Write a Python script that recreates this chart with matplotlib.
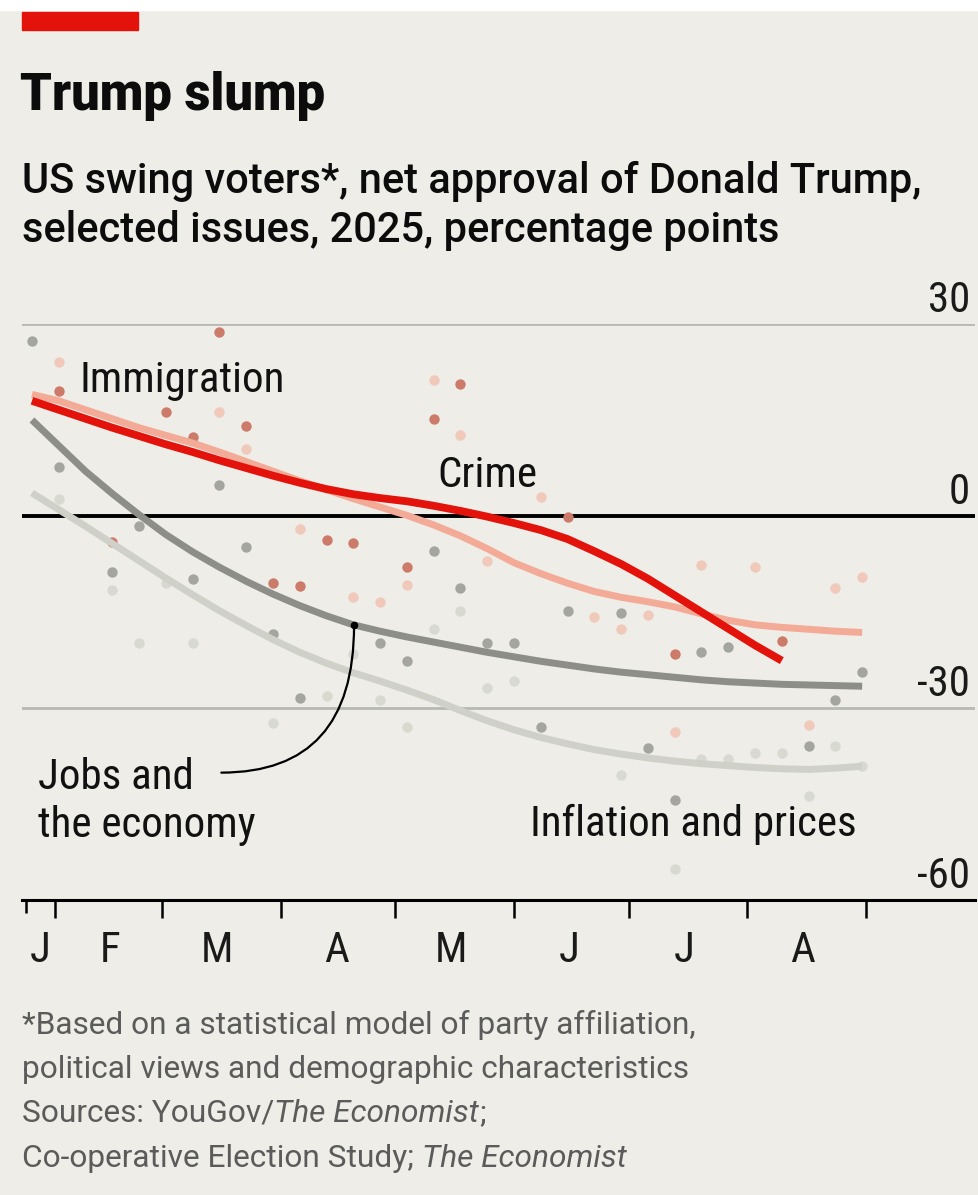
import numpy as np
import pandas as pd
import matplotlib
matplotlib.use("Agg")
import matplotlib.pyplot as plt
import matplotlib.dates as mdates

# narrow face inside the chart, regular width for the header and footer
NARROW = ['Roboto Condensed', 'Archivo Narrow', 'DejaVu Sans']
WIDE = ['Roboto', 'DejaVu Sans']
plt.rcParams['font.family'] = NARROW

# weekly survey dates
weeks = pd.date_range("2025-01-26", periods=32, freq="7D")

# smoothed trends, net approval, percentage points
crime_trend = [18.0, 16.6, 15.2, 13.8, 12.5, 11.2, 10.0, 8.7, 7.5, 6.3, 5.2, 4.2,
               3.4, 2.8, 2.3, 1.6, 0.8, -0.1, -1.1, -2.2, -3.6, -5.5, -7.5, -9.8,
               -12.4, -15.0, -17.6, -20.2, -22.6]
immigration_trend = [19.0, 18.0, 16.6, 15.2, 13.8, 12.6, 11.4, 10.0, 8.5, 7.0, 5.5, 4.1,
                     2.7, 1.4, 0.1, -1.4, -3.1, -5.1, -7.3, -9.0, -10.5, -11.8, -12.7, -13.4,
                     -14.2, -15.3, -16.3, -17.0, -17.4, -17.7, -18.0, -18.2]
jobs_trend = [15.0, 11.0, 7.0, 3.5, 0.2, -2.9, -5.6, -8.0, -10.2, -12.2, -14.0, -15.6,
              -17.0, -18.0, -18.9, -19.7, -20.5, -21.3, -22.0, -22.7, -23.3, -23.9, -24.4, -24.8,
              -25.2, -25.6, -25.9, -26.1, -26.3, -26.4, -26.5, -26.6]
inflation_trend = [3.6, 1.0, -1.6, -4.3, -7.0, -9.7, -12.3, -14.8, -17.1, -19.3, -21.3, -23.0,
                   -24.5, -25.8, -27.2, -28.7, -30.4, -32.0, -33.4, -34.6, -35.6, -36.5, -37.2, -37.8,
                   -38.3, -38.7, -39.0, -39.3, -39.5, -39.6, -39.4, -39.1]

# individual poll readings: week index and value
crime_wk = [1, 3, 5, 6, 7, 8, 9, 10, 11, 12, 14, 15, 16, 20, 24, 28]
crime_pts = [19.5, -4.1, 16.2, 12.3, 28.8, 14.1, -10.4, -11.0, -3.7, -4.2, -7.9, 15.2,
             20.7, -0.2, -21.6, -19.6]
immigration_wk = [1, 7, 8, 10, 12, 13, 14, 15, 16, 17, 19, 21, 22, 23, 24, 25, 27, 29, 30, 31]
immigration_pts = [24.1, 16.2, 10.4, -2.0, -12.6, -13.4, -10.8, 21.3, 12.7, -7.1, 2.9, -15.8,
                   -17.7, -15.4, -33.8, -7.6, -7.9, -32.7, -11.2, -9.5]
jobs_wk = [0, 1, 3, 4, 6, 7, 8, 9, 10, 13, 14, 15, 16, 17, 18, 19, 20, 22, 23, 24, 25, 26,
           29, 30, 31]
jobs_pts = [27.3, 7.6, -8.7, -1.5, -9.9, 4.9, -4.9, -18.5, -28.5, -19.8, -22.7, -5.5, -11.2,
            -19.8, -19.8, -32.9, -14.9, -15.1, -36.2, -44.3, -21.2, -20.4, -35.9, -28.7, -24.3]
inflation_wk = [1, 3, 4, 5, 6, 9, 11, 12, 13, 14, 15, 16, 17, 18, 22, 24, 25, 26, 27, 28, 29,
                30, 31]
inflation_pts = [2.6, -11.5, -19.8, -10.4, -19.8, -32.4, -28.2, -21.6, -28.7, -32.9, -17.7,
                 -14.9, -26.8, -25.8, -40.4, -55.2, -37.9, -37.9, -37.1, -37.1, -43.8, -36.0,
                 -39.1]

y_ticks = [30, 0, -30, -60]
month_labels = ["J", "F", "M", "A", "M", "J", "J", "A"]

BG = '#eeede7'
RED = '#e3120b'
SALMON = '#f3ab97'
DGREY = '#8c8e87'
LGREY = '#cfd0c8'

W, H = 979, 1195
fig = plt.figure(figsize=(W / 100, H / 100), dpi=100, facecolor=BG)

# plot area spans the gridlines: x 22..975 px, y 324..900 px
ax = fig.add_axes([22 / W, (H - 900) / H, (975 - 22) / W, 576 / H])
ax.set_facecolor('none')
jan1 = mdates.date2num(np.datetime64('2025-01-01'))
ax.set_xlim(jan1 + 22.4, jan1 + 271.5)
ax.set_ylim(-60, 30)

for s in ['top', 'right', 'left']:
    ax.spines[s].set_visible(False)
ax.spines['bottom'].set_linewidth(2.2)
ax.spines['bottom'].set_color('black')
ax.set_yticks([])

for v in [30, -30]:
    ax.axhline(v, color='#b9b9b3', lw=2.0, zorder=1)
ax.axhline(0, color='black', lw=2.8, zorder=1)

# month boundaries as ticks, one short tick at the series start
month_starts = pd.date_range("2025-02-01", "2025-09-01", freq="MS")
ax.set_xticks(mdates.date2num(month_starts))
ax.set_xticklabels([])
ax.tick_params(axis='x', which='major', length=13, width=1.8, color='black')
ax.set_xticks([jan1 + 23.4], minor=True)
ax.tick_params(axis='x', which='minor', length=9, width=1.8, color='black')

label_days = [jan1 + 27.2] + list(mdates.date2num(month_starts[:-1]) + 14.5)
for d, m in zip(label_days, month_labels):
    ax.text(d, -0.108, m, transform=ax.get_xaxis_transform(), ha='center',
            va='baseline', fontsize=31, color='#1a1a1a')

for v in y_ticks:
    ax.text(0.995, v + 1.9, str(v), transform=ax.get_yaxis_transform(), ha='right',
            va='baseline', fontsize=31, color='#1a1a1a')

# dots, then trend lines on top
wk = mdates.date2num(weeks)
series = [
    (inflation_wk, inflation_pts, inflation_trend, '#d8d9d1', LGREY, 5.0),
    (jobs_wk, jobs_pts, jobs_trend, '#a3a59e', DGREY, 5.0),
    (immigration_wk, immigration_pts, immigration_trend, '#f1c9bb', SALMON, 5.0),
    (crime_wk, crime_pts, crime_trend, '#cc7b6b', RED, 5.6),
]
for idx, pts, trend, dot_c, line_c, lw in series:
    ax.scatter(wk[idx], pts, s=56, color=dot_c, linewidths=0, zorder=2, clip_on=False)
for idx, pts, trend, dot_c, line_c, lw in series:
    ax.plot(wk[:len(trend)], trend, color=line_c, lw=lw, solid_capstyle='butt',
            zorder=3, clip_on=False)

lab = dict(fontsize=31, color='#111111', va='baseline', ha='left', zorder=5)
ax.text(jan1 + 37.5, 19.3, "Immigration", **lab)
ax.text(jan1 + 130.9, 4.6, "Crime", **lab)
ax.text(jan1 + 26.6, -42.6, "Jobs and", **lab)
ax.text(jan1 + 26.6, -50.2, "the economy", **lab)
ax.text(jan1 + 155.2, -50.0, "Inflation and prices", **lab)

# leader from the jobs label to its trend line
tip = (jan1 + 109.2, -17.1)
ax.annotate("", xy=tip, xytext=(jan1 + 74.5, -40.1),
            arrowprops=dict(arrowstyle='-', color='black', lw=1.6, shrinkA=0, shrinkB=0,
                            connectionstyle='angle3,angleA=0,angleB=90'), zorder=5)
ax.plot(*tip, 'o', ms=4.5, color='black', zorder=6)

# header
fig.patches.append(plt.Rectangle((0, 1 - 10 / H), 1, 10 / H, transform=fig.transFigure,
                                 color='white', zorder=0))
fig.patches.append(plt.Rectangle((22 / W, 1 - 30 / H), 116 / W, 18 / H,
                                 transform=fig.transFigure, color=RED, zorder=1))
fig.text(20 / W, 1 - 110 / H, "Trump slump", family=WIDE, fontsize=36.5, fontweight='black',
         va='baseline', color='#0c0c0c')
fig.text(22 / W, 1 - 193 / H, "US swing voters*, net approval of Donald Trump,",
         family=WIDE, fontsize=30, fontweight='medium', va='baseline', color='#0c0c0c')
fig.text(22 / W, 1 - 242 / H, "selected issues, 2025, percentage points",
         family=WIDE, fontsize=30, fontweight='medium', va='baseline', color='#0c0c0c')

# footnote and sources, publication names in italics
GREY_TXT = '#5b5b5b'
fig.canvas.draw()
rend = fig.canvas.get_renderer()


def line_parts(y_px, parts):
    x = 22 / W
    for txt, style in parts:
        t = fig.text(x, 1 - y_px / H, txt, family=WIDE, fontsize=22.8, style=style,
                     va='baseline', color=GREY_TXT)
        bb = t.get_window_extent(renderer=rend)
        x += bb.width / W


line_parts(1034, [("*Based on a statistical model of party affiliation,", 'normal')])
line_parts(1078, [("political views and demographic characteristics", 'normal')])
line_parts(1122, [("Sources: YouGov/", 'normal'), ("The Economist", 'italic'), (";", 'normal')])
line_parts(1167, [("Co-operative Election Study; ", 'normal'), ("The Economist", 'italic')])

fig.savefig("out.png", dpi=100, facecolor=BG)
